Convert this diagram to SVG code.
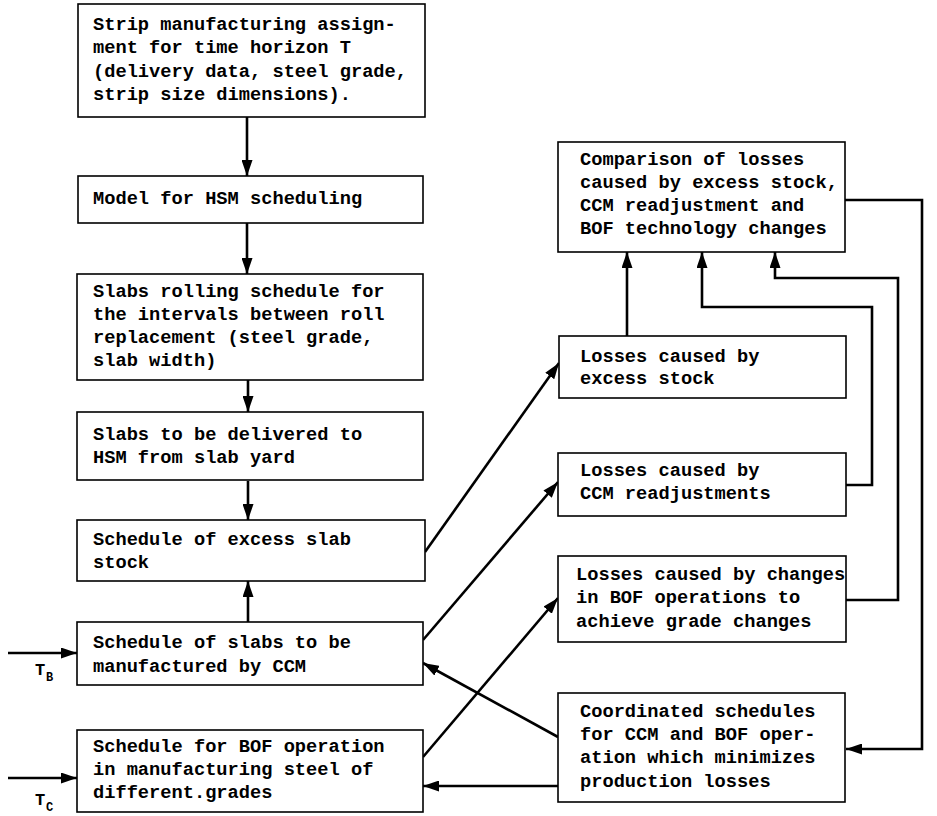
<svg xmlns="http://www.w3.org/2000/svg" width="937" height="816" viewBox="0 0 937 816">
  <style>
    .box { fill: #fff; stroke: #000; stroke-width: 1.6; }
    .t { font-family: "Liberation Mono", "Courier New", monospace; font-size: 18.7px; font-weight: bold; fill: #000; }
    .lbl { font-family: "Liberation Mono", "Courier New", monospace; font-weight: bold; fill: #000; }
    .c { fill: none; stroke: #000; stroke-width: 2.6; }
  </style>
  <defs>
    <marker id="ah" viewBox="0 0 16 11" refX="16" refY="5.5" markerWidth="16" markerHeight="11" markerUnits="userSpaceOnUse" orient="auto">
      <path d="M0,0 L16,5.5 L0,11 Z" fill="#000"/>
    </marker>
  </defs>
  <rect width="937" height="816" fill="#fff"/>

  <g id="connectors">
    <line class="c" x1="247" y1="117" x2="247" y2="176" marker-end="url(#ah)"/>
    <line class="c" x1="247" y1="223" x2="247" y2="274" marker-end="url(#ah)"/>
    <line class="c" x1="248" y1="380" x2="248" y2="412" marker-end="url(#ah)"/>
    <line class="c" x1="248" y1="481" x2="248" y2="520" marker-end="url(#ah)"/>
    <line class="c" x1="248" y1="622" x2="248" y2="581" marker-end="url(#ah)"/>
    <line class="c" x1="8" y1="653" x2="77" y2="653" marker-end="url(#ah)"/>
    <line class="c" x1="8" y1="778" x2="77" y2="778" marker-end="url(#ah)"/>
    <line class="c" x1="425" y1="552" x2="559" y2="363" marker-end="url(#ah)"/>
    <line class="c" x1="423" y1="640" x2="558" y2="482" marker-end="url(#ah)"/>
    <line class="c" x1="423" y1="757" x2="558" y2="598" marker-end="url(#ah)"/>
    <line class="c" x1="558" y1="737" x2="423" y2="663" marker-end="url(#ah)"/>
    <line class="c" x1="558" y1="786" x2="423" y2="786" marker-end="url(#ah)"/>
    <line class="c" x1="627" y1="336" x2="627" y2="252" marker-end="url(#ah)"/>
    <polyline class="c" points="846,485 872,485 872,307 702,307 702,252" marker-end="url(#ah)"/>
    <polyline class="c" points="846,600 898,600 898,278 775,278 775,252" marker-end="url(#ah)"/>
    <polyline class="c" points="845,200 922,200 922,749 846,749" marker-end="url(#ah)"/>
  </g>

  <g id="strip-assignment">
    <rect class="box" x="78" y="4" width="347" height="113"/>
    <text class="t" x="93" y="30">Strip manufacturing assign-</text>
    <text class="t" x="93" y="53">ment for time horizon T</text>
    <text class="t" x="93" y="77">(delivery data, steel grade,</text>
    <text class="t" x="93" y="100">strip size dimensions).</text>
  </g>

  <g id="hsm-model">
    <rect class="box" x="78" y="176" width="345" height="47"/>
    <text class="t" x="93" y="204">Model for HSM scheduling</text>
  </g>

  <g id="rolling-schedule">
    <rect class="box" x="77" y="274" width="346" height="106"/>
    <text class="t" x="93" y="297">Slabs rolling schedule for</text>
    <text class="t" x="93" y="320">the intervals between roll</text>
    <text class="t" x="93" y="343">replacement (steel grade,</text>
    <text class="t" x="93" y="366">slab width)</text>
  </g>

  <g id="slab-delivery">
    <rect class="box" x="77" y="412" width="346" height="68"/>
    <text class="t" x="93" y="440">Slabs to be delivered to</text>
    <text class="t" x="93" y="463">HSM from slab yard</text>
  </g>

  <g id="excess-stock-schedule">
    <rect class="box" x="77" y="520" width="348" height="61"/>
    <text class="t" x="93" y="545">Schedule of excess slab</text>
    <text class="t" x="93" y="568">stock</text>
  </g>

  <g id="ccm-schedule">
    <rect class="box" x="77" y="622" width="346" height="63"/>
    <text class="t" x="93" y="648">Schedule of slabs to be</text>
    <text class="t" x="93" y="672">manufactured by CCM</text>
    <text class="lbl" x="35" y="675" font-size="17">T</text>
    <text class="lbl" x="46" y="681" font-size="12">B</text>
  </g>

  <g id="bof-schedule">
    <rect class="box" x="77" y="730" width="346" height="82"/>
    <text class="t" x="93" y="752">Schedule for BOF operation</text>
    <text class="t" x="93" y="775">in manufacturing steel of</text>
    <text class="t" x="93" y="798">different.grades</text>
    <text class="lbl" x="35" y="805" font-size="17">T</text>
    <text class="lbl" x="46" y="811" font-size="12">C</text>
  </g>

  <g id="loss-comparison">
    <rect class="box" x="558" y="142" width="287" height="110"/>
    <text class="t" x="580" y="165" font-size="18.2">Comparison of losses</text>
    <text class="t" x="580" y="188" font-size="18.2">caused by excess stock,</text>
    <text class="t" x="580" y="211" font-size="18.2">CCM readjustment and</text>
    <text class="t" x="580" y="234" font-size="18.2">BOF technology changes</text>
  </g>

  <g id="losses-excess">
    <rect class="box" x="559" y="336" width="287" height="62"/>
    <text class="t" x="580" y="362">Losses caused by</text>
    <text class="t" x="580" y="384">excess stock</text>
  </g>

  <g id="losses-ccm">
    <rect class="box" x="558" y="453" width="288" height="63"/>
    <text class="t" x="580" y="476">Losses caused by</text>
    <text class="t" x="580" y="499">CCM readjustments</text>
  </g>

  <g id="losses-bof">
    <rect class="box" x="558" y="556" width="288" height="86"/>
    <text class="t" x="576" y="580">Losses caused by changes</text>
    <text class="t" x="576" y="603">in BOF operations to</text>
    <text class="t" x="576" y="627">achieve grade changes</text>
  </g>

  <g id="coordinated-schedules">
    <rect class="box" x="558" y="693" width="287" height="109"/>
    <text class="t" x="580" y="717">Coordinated schedules</text>
    <text class="t" x="580" y="740">for CCM and BOF oper-</text>
    <text class="t" x="580" y="763">ation which minimizes</text>
    <text class="t" x="580" y="787">production losses</text>
  </g>
</svg>
